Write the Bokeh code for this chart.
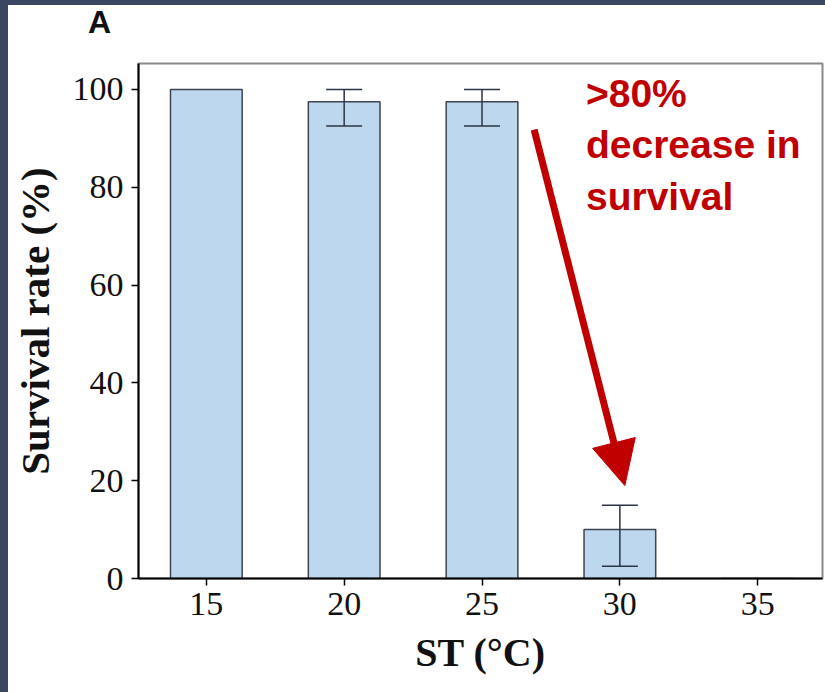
from bokeh.plotting import figure
from bokeh.models import (ColumnDataSource, Whisker, TeeHead, Arrow, NormalHead,
                          Label, FixedTicker, Div)
from bokeh.layouts import column
from bokeh.embed import file_html
from bokeh.resources import INLINE

# Survival rate (%) at each temperature (ST, °C), with error-bar limits
temps = [15, 20, 25, 30, 35]
survival = [100, 97.5, 97.5, 10, 0]
err_low = [100, 92.5, 92.5, 2.5, 0]
err_high = [100, 100, 100, 15, 0]

x_ticks = [15, 20, 25, 30, 35]
y_ticks = [0, 20, 40, 60, 80, 100]

panel_tag = "A"
note_text = ">80%\ndecrease in\nsurvival"
RED = "#c00000"

# header strip carrying the panel letter
header = Div(
    text=('<div style="font-family: \'Liberation Sans\'; font-weight: bold; '
          'font-size: 32px; line-height: 28px; color: #111111; '
          'padding: 3px 0 0 80px;">' + panel_tag + '</div>'),
    width=817, height=57, margin=(0, 0, 0, 0),
    styles={"background-color": "white"})

p = figure(width=817, height=630, x_range=(12.54, 37.35), y_range=(0, 105.3),
           output_backend="svg", toolbar_location=None,
           min_border_left=128, min_border_right=3,
           min_border_top=1, min_border_bottom=114)
p.margin = (0, 0, 0, 0)
p.background_fill_color = "white"
p.border_fill_color = "white"
p.outline_line_color = "#8a8a8a"
p.outline_line_width = 2
p.xgrid.visible = False
p.ygrid.visible = False

src = ColumnDataSource(dict(x=temps, top=survival))
p.vbar(x="x", top="top", bottom=0, width=2.6, source=src,
       fill_color="#bdd7ee", line_color="#3d4450", line_width=1.5)

# error bars only where the interval is non-empty, drawn over the bars
idx = [i for i in range(len(temps)) if err_high[i] > err_low[i]]
wsrc = ColumnDataSource(dict(x=[temps[i] for i in idx],
                             lo=[err_low[i] for i in idx],
                             hi=[err_high[i] for i in idx]))
w = Whisker(base="x", lower="lo", upper="hi", source=wsrc, level="overlay",
            line_color="#2b3545", line_width=1.5,
            upper_head=TeeHead(size=36, line_color="#2b3545", line_width=1.5),
            lower_head=TeeHead(size=36, line_color="#2b3545", line_width=1.5))
p.add_layout(w)

p.add_layout(Arrow(end=NormalHead(size=44, fill_color=RED, line_color=RED, line_width=1),
                   x_start=26.89, y_start=91.8, x_end=30.18, y_end=19.0,
                   line_color=RED, line_width=7))

p.add_layout(Label(x=28.77, y=103.6, text=note_text,
                   text_font="Liberation Sans", text_font_style="bold",
                   text_font_size="39px", text_color=RED,
                   text_baseline="top", text_line_height=1.2))

for ax in (p.xaxis, p.yaxis):
    ax.axis_line_color = "black"
    ax.axis_line_width = 2
    ax.major_tick_line_color = "black"
    ax.major_tick_line_width = 1.5
    ax.major_tick_in = 0
    ax.major_tick_out = 7
    ax.minor_tick_line_color = None
    ax.major_label_text_font = "Liberation Serif"
    ax.major_label_text_font_size = "34px"
    ax.major_label_text_color = "#111111"
    ax.axis_label_text_font = "Liberation Serif"
    ax.axis_label_text_font_style = "bold"
    ax.axis_label_text_color = "#111111"

p.xaxis.axis_label_text_font_size = "40px"
p.yaxis.axis_label_text_font_size = "41px"
p.xaxis.ticker = FixedTicker(ticks=x_ticks)
p.yaxis.ticker = FixedTicker(ticks=y_ticks)
p.xaxis.axis_label = "ST (°C)"
p.yaxis.axis_label = "Survival rate (%)"
p.xaxis.major_label_standoff = 7
p.yaxis.major_label_standoff = 8
p.xaxis.axis_label_standoff = 12
p.yaxis.axis_label_standoff = 12

# white sheet inset on a dark page edge (left and top)
sheet = column(header, p, width=817, height=687, spacing=0, margin=(5, 0, 0, 8),
               styles={"background-color": "white"})
layout = column(sheet, width=825, height=692,
                styles={"background-color": "#3b4760"})

open("out.html", "w").write(file_html(layout, INLINE))
